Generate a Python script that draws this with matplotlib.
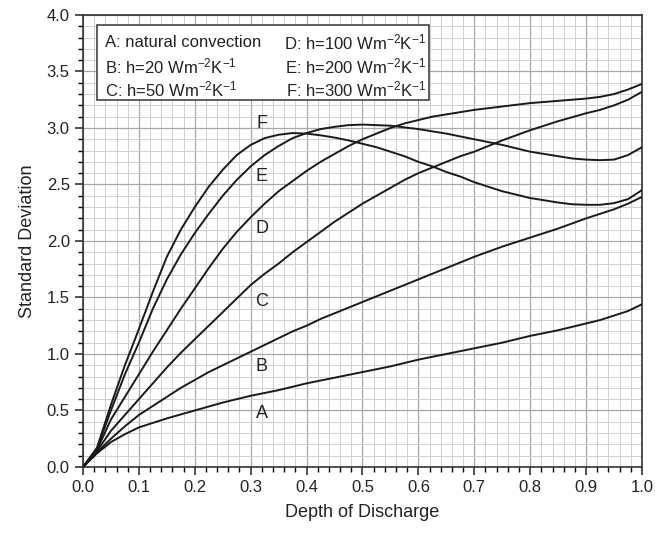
import matplotlib
matplotlib.use("Agg")
import matplotlib.pyplot as plt
from matplotlib.ticker import MultipleLocator

plt.rcParams['font.family'] = ['Liberation Sans', 'DejaVu Sans']
plt.rcParams['mathtext.default'] = 'regular'

# depth of discharge, read every 0.025
x = [i * 0.025 for i in range(41)]

# standard deviation, one list per curve
A = [0.0, 0.12, 0.22, 0.29, 0.35, 0.39, 0.43, 0.465, 0.50, 0.535, 0.57,
     0.60, 0.63, 0.655, 0.68, 0.71, 0.74, 0.765, 0.79, 0.815, 0.84,
     0.865, 0.89, 0.92, 0.95, 0.975, 1.00, 1.025, 1.05, 1.075, 1.10,
     1.13, 1.16, 1.185, 1.21, 1.24, 1.27, 1.30, 1.34, 1.38, 1.44]
B = [0.0, 0.13, 0.25, 0.36, 0.46, 0.54, 0.62, 0.70, 0.77, 0.84, 0.90,
     0.96, 1.02, 1.08, 1.14, 1.20, 1.25, 1.31, 1.36, 1.41, 1.46,
     1.51, 1.56, 1.61, 1.66, 1.71, 1.76, 1.81, 1.86, 1.905, 1.95,
     1.99, 2.03, 2.07, 2.11, 2.155, 2.20, 2.24, 2.28, 2.33, 2.39]
C = [0.0, 0.14, 0.32, 0.46, 0.60, 0.74, 0.88, 1.01, 1.13, 1.25, 1.37,
     1.49, 1.61, 1.71, 1.80, 1.90, 1.99, 2.08, 2.17, 2.25, 2.33,
     2.40, 2.47, 2.54, 2.60, 2.65, 2.70, 2.75, 2.79, 2.84, 2.89,
     2.935, 2.98, 3.02, 3.06, 3.095, 3.13, 3.16, 3.20, 3.25, 3.32]
D = [0.0, 0.15, 0.42, 0.62, 0.82, 1.02, 1.21, 1.40, 1.58, 1.76, 1.93,
     2.08, 2.21, 2.33, 2.44, 2.53, 2.62, 2.70, 2.77, 2.84, 2.90,
     2.95, 3.00, 3.04, 3.07, 3.10, 3.12, 3.14, 3.16, 3.175, 3.19,
     3.205, 3.22, 3.23, 3.24, 3.25, 3.26, 3.275, 3.30, 3.34, 3.39]
E = [0.0, 0.16, 0.50, 0.82, 1.10, 1.40, 1.66, 1.88, 2.07, 2.24, 2.40,
     2.54, 2.66, 2.76, 2.84, 2.91, 2.955, 2.99, 3.01, 3.025, 3.03,
     3.025, 3.02, 3.005, 2.99, 2.97, 2.95, 2.925, 2.90, 2.875, 2.85,
     2.82, 2.79, 2.77, 2.75, 2.73, 2.72, 2.715, 2.72, 2.76, 2.83]
F = [0.0, 0.17, 0.55, 0.90, 1.22, 1.55, 1.86, 2.10, 2.30, 2.48, 2.63,
     2.76, 2.85, 2.91, 2.94, 2.955, 2.95, 2.935, 2.915, 2.89, 2.86,
     2.83, 2.79, 2.75, 2.70, 2.66, 2.61, 2.57, 2.52, 2.48, 2.44,
     2.41, 2.38, 2.36, 2.34, 2.325, 2.32, 2.32, 2.335, 2.37, 2.45]

names = ['A', 'B', 'C', 'D', 'E', 'F']
label_y = [0.475, 0.89, 1.46, 2.11, 2.57, 3.04]
legend_left = ["A: natural convection",
               r"B: h=20 Wm$^{-2}$K$^{-1}$",
               r"C: h=50 Wm$^{-2}$K$^{-1}$"]
legend_right = [r"D: h=100 Wm$^{-2}$K$^{-1}$",
                r"E: h=200 Wm$^{-2}$K$^{-1}$",
                r"F: h=300 Wm$^{-2}$K$^{-1}$"]

fig = plt.figure(figsize=(6.67, 5.34), dpi=100)
ax = fig.add_axes([0.1244, 0.1255, 0.8381, 0.8465])

for y in [A, B, C, D, E, F]:
    ax.plot(x, y, color='#1a1a1a', lw=1.4, zorder=3)

for n, ly in zip(names, label_y):
    ax.text(0.32, ly, n, fontsize=13, ha='center', va='center', color='#222')

ax.set_xlim(0, 1.0)
ax.set_ylim(0, 4.0)
ax.xaxis.set_major_locator(MultipleLocator(0.1))
ax.xaxis.set_minor_locator(MultipleLocator(0.02))
ax.yaxis.set_major_locator(MultipleLocator(0.5))
ax.yaxis.set_minor_locator(MultipleLocator(0.1))
ax.xaxis.set_major_formatter(plt.FormatStrFormatter('%.1f'))
ax.yaxis.set_major_formatter(plt.FormatStrFormatter('%.1f'))
ax.grid(True, which='major', color='#a8a8a8', lw=0.9)
ax.grid(True, which='minor', color='#cfcfcf', lw=0.7)
ax.set_axisbelow(True)
ax.tick_params(which='major', direction='out', length=6, width=1.1,
               labelsize=12, colors='#222')
ax.tick_params(which='minor', direction='out', length=3.5, width=1.0)
for s in ax.spines.values():
    s.set_linewidth(1.2)
    s.set_color('#333')

ax.set_xlabel("Depth of Discharge", fontsize=13, color='#222', labelpad=6)
ax.set_ylabel("Standard Deviation", fontsize=13, color='#222', labelpad=8)

# legend box drawn as text
box = plt.Rectangle((0.025, 3.245), 0.594, 0.665, transform=ax.transData,
                    facecolor='white', edgecolor='#333', lw=1.1, zorder=4)
ax.add_patch(box)
rows = [3.76, 3.545, 3.34]
for t, ry in zip(legend_left, rows):
    ax.text(0.04, ry, t, fontsize=12, ha='left', va='center', zorder=5, color='#222')
for t, ry in zip(legend_right, rows):
    ax.text(0.613, ry, t, fontsize=12, ha='right', va='center', zorder=5, color='#222')

fig.savefig("out.png", dpi=100)
